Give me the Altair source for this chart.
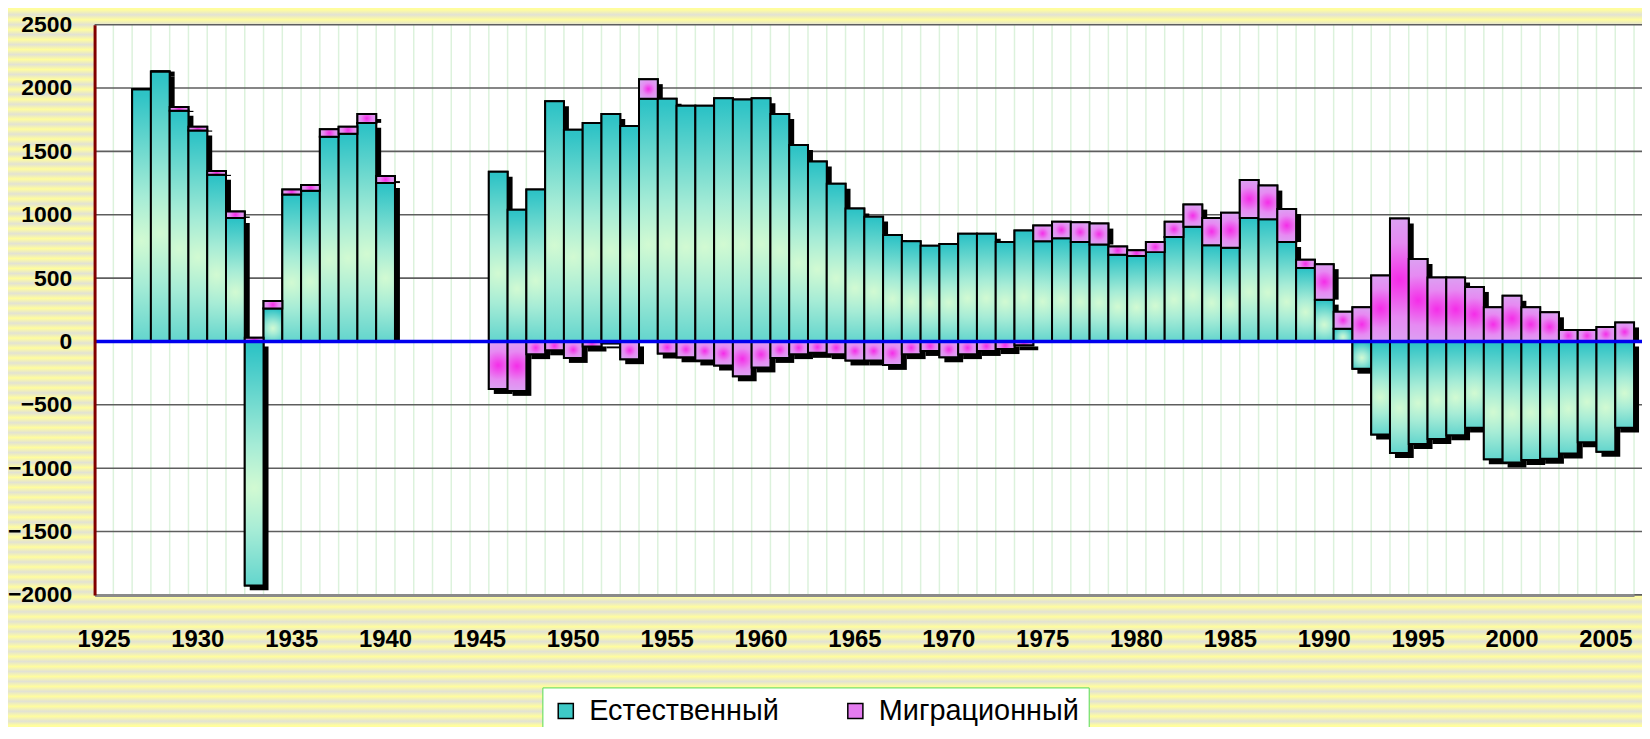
import altair as alt
import pandas as pd

# ---------------- data ----------------
years = [1927, 1928, 1929, 1930, 1931, 1932, 1933, 1934, 1935, 1936, 1937, 1938, 1939, 1940,
         1946, 1947, 1948, 1949, 1950, 1951, 1952, 1953, 1954, 1955, 1956, 1957, 1958, 1959,
         1960, 1961, 1962, 1963, 1964, 1965, 1966, 1967, 1968, 1969, 1970, 1971, 1972, 1973,
         1974, 1975, 1976, 1977, 1978, 1979, 1980, 1981, 1982, 1983, 1984, 1985, 1986, 1987,
         1988, 1989, 1990, 1991, 1992, 1993, 1994, 1995, 1996, 1997, 1998, 1999, 2000, 2001,
         2002, 2003, 2004, 2005, 2006]

natural = [1990, 2130, 1820, 1665, 1315, 975, -1925, 260, 1160, 1190, 1615, 1640, 1725, 1250,
           1340, 1040, 1200, 1895, 1670, 1725, 1795, 1700, 1915, 1915, 1860, 1860, 1920, 1910,
           1920, 1795, 1550, 1420, 1245, 1050, 985, 840, 790, 755, 770, 850, 850, 785,
           875, 790, 815, 785, 765, 685, 675, 705, 825, 905, 760, 740, 975, 965,
           785, 580, 330, 100, -215, -735, -880, -810, -770, -740, -680, -930, -955, -935,
           -925, -885, -795, -870, -680]

migration = [0, 0, 30, 30, 30, 50, 30, 60, 40, 45, 60, 55, 70, 55,
             -375, -390, -100, -70, -130, -40, -15, -140, 155, -95, -125, -150, -190, -275,
             -205, -130, -100, -90, -100, -150, -150, -185, -100, -75, -125, -100, -75, -60,
             -30, 125, 130, 155, 165, 65, 45, 80, 120, 175, 215, 275, 300, 265,
             260, 65, 280, 135, 270, 520, 970, 650, 505, 505, 430, 270, 360, 270,
             230, 90, 90, 115, 150]

series_names = ["Естественный", "Миграционный"]
all_years = list(range(1925, 2007))
x_tick_labels = [1925, 1930, 1935, 1940, 1945, 1950, 1955, 1960, 1965, 1970, 1975,
                 1980, 1985, 1990, 1995, 2000, 2005]
y_ticks = [-2000, -1500, -1000, -500, 0, 500, 1000, 1500, 2000, 2500]

rows = []
for i, yr in enumerate(years):
    rows.append({"year": yr, "series": series_names[0], "value": natural[i], "order": 0})
    rows.append({"year": yr, "series": series_names[1], "value": migration[i], "order": 1})
df = pd.DataFrame(rows)

# ---------------- layout / style ----------------
FONT = "Liberation Sans, Arial, sans-serif"
PW = 1555      # plot width
BAND_W = 1547  # width covered by the 82 categories
H = 573
PAD_L, PAD_T, PAD_B = 87, 15, 131
TOTAL_H = PAD_T + H + PAD_B

# striped background gradient
period = 10.0
stops = []
k = 0
while k * period < TOTAL_H:
    stops.append({"offset": min(k * period / TOTAL_H, 1), "color": "#FFFD9E"})
    stops.append({"offset": min((k * period + 5) / TOTAL_H, 1), "color": "#E2E2D4"})
    k += 1
stops.append({"offset": 1, "color": "#FFFD9E"})
stripe_grad = {"gradient": "linear", "x1": 0, "y1": 0, "x2": 0, "y2": 1, "stops": stops}

teal_grad = {"gradient": "radial", "x1": 0.5, "y1": 0.6, "r1": 0, "x2": 0.5, "y2": 0.6, "r2": 0.58,
             "stops": [{"offset": 0, "color": "#D2FAD2"}, {"offset": 0.3, "color": "#A6ECD6"},
                       {"offset": 1, "color": "#2EC3C6"}]}
viol_grad = {"gradient": "radial", "x1": 0.5, "y1": 0.5, "r1": 0, "x2": 0.5, "y2": 0.5, "r2": 0.55,
             "stops": [{"offset": 0, "color": "#F52CE8"}, {"offset": 0.55, "color": "#E68AF2"},
                       {"offset": 1, "color": "#D9A6F2"}]}

xscale = alt.Scale(domain=all_years, range=[0, BAND_W], paddingInner=0, paddingOuter=0)
yscale = alt.Scale(domain=[-2000, 2500], nice=False)

xaxis = alt.Axis(values=x_tick_labels, labelFont=FONT, labelFontSize=24, labelFontWeight="bold",
                 labelColor="black", labelPadding=33, labelAngle=0, ticks=False, grid=False,
                 domainColor="#8a8a8a", domainWidth=3, zindex=1, title=None)
yaxis = alt.Axis(values=y_ticks, format="d", labelFont=FONT, labelFontSize=23, labelFontWeight="bold",
                 labelColor="black", labelPadding=23, ticks=False, grid=False,
                 domainColor="#800000", domainWidth=3, zindex=1, title=None)

X = alt.X("year:O", scale=xscale, axis=xaxis, title=None)

stripes = alt.Chart(alt.Data(values=[{"a": 1}])).mark_rect(fill=stripe_grad, clip=False).encode(
    x=alt.value(-PAD_L), x2=alt.value(PW + 10), y=alt.value(-PAD_T), y2=alt.value(H + PAD_B)
)
plot_bg = alt.Chart(alt.Data(values=[{"a": 1}])).mark_rect(fill="white").encode(
    x=alt.value(0), x2=alt.value(PW), y=alt.value(0), y2=alt.value(H)
)

vgrid = alt.Chart(pd.DataFrame({"year": all_years})).mark_rule(color="#DCF2DC", strokeWidth=1.5).encode(
    x=alt.X("year:O", scale=xscale, axis=xaxis, bandPosition=1, title=None)
)
hgrid = alt.Chart(pd.DataFrame({"v": y_ticks})).mark_rule(color="#5e5e5e", strokeWidth=1.6).encode(
    y=alt.Y("v:Q", scale=yscale, axis=yaxis, title=None)
)

base = alt.Chart(df).transform_stack(
    stack="value", groupby=["year"], as_=["v0", "v1"],
    sort=[alt.SortField("order", order="ascending")], offset="zero"
)
Y = alt.Y("v0:Q", scale=yscale, axis=yaxis, title=None)
Y2 = alt.Y2("v1:Q")

# drop shadows: positive segments keep their base on the zero side, negatives shift fully
shadow_pos = base.transform_filter(alt.datum.value >= 0).mark_bar(
    color="black", xOffset=5, yOffset=0, y2Offset=5).encode(x=X, y=Y, y2=Y2)
shadow_neg = base.transform_filter(alt.datum.value < 0).mark_bar(
    color="black", xOffset=5, yOffset=5, y2Offset=5).encode(x=X, y=Y, y2=Y2)

plain = base.mark_bar(stroke="black", strokeWidth=2).encode(
    x=X, y=Y, y2=Y2,
    color=alt.Color("series:N",
                    scale=alt.Scale(domain=series_names, range=["#3EC9C6", "#E47CF0"]),
                    legend=alt.Legend(orient="none", legendX=450, legendY=666, direction="horizontal",
                                      title=None, fillColor="white", strokeColor="#55DD55",
                                      padding=9, labelFont=FONT, labelFontSize=29, labelColor="black",
                                      labelLimit=0, symbolType="square", symbolSize=230,
                                      symbolStrokeColor="black", symbolStrokeWidth=1.5,
                                      columnPadding=62, labelOffset=9, symbolOpacity=1))
)

nat_bars = base.transform_filter(alt.datum.order == 0).mark_bar(
    fill=teal_grad, stroke="black", strokeWidth=2).encode(x=X, y=Y, y2=Y2)
mig_bars = base.transform_filter(alt.datum.order == 1).mark_bar(
    fill=viol_grad, stroke="black", strokeWidth=2).encode(x=X, y=Y, y2=Y2)

zero = alt.Chart(alt.Data(values=[{"z": 0}])).mark_rule(color="#0000EE", strokeWidth=3.5).encode(
    y=alt.Y("z:Q", scale=yscale, axis=yaxis, title=None)
)

chart = alt.layer(stripes, plot_bg, vgrid, hgrid, shadow_pos, shadow_neg, plain, nat_bars, mig_bars,
                  zero).properties(
    width=PW, height=H,
    padding={"left": PAD_L, "top": PAD_T, "right": 0, "bottom": PAD_B},
    autosize=alt.AutoSizeParams(type="none"),
).configure_view(stroke=None).configure(background="#FFFD9E")

chart.save("out.html", embed_options={"renderer": "svg", "actions": False})
